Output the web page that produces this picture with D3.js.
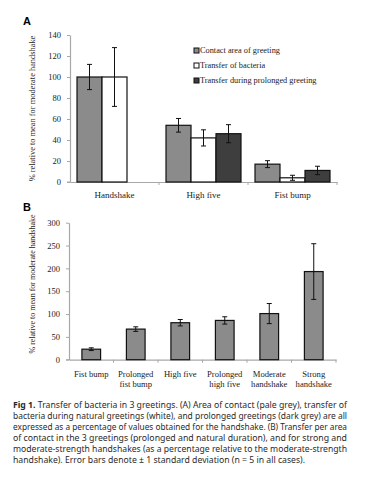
<!DOCTYPE html>
<html>
<head>
<meta charset="utf-8">
<script src="https://cdn.jsdelivr.net/npm/d3@7"></script>
<style>
  body { margin: 0; background: #fff; }
  svg { display: block; }
</style>
</head>
<body>
<div id="chart"></div>
<script>
// panel A data
var catsA = ["Handshake", "High five", "Fist bump"];
var seriesA = ["Contact area of greeting", "Transfer of bacteria", "Transfer during prolonged greeting"];
var contactMean = [100, 54, 17];
var contactSd = [12, 6.5, 3.3];
var transferMean = [100, 42, 4];
var transferSd = [28, 7.7, 2.4];
var prolongedMean = [null, 46, 11];
var prolongedSd = [null, 8.6, 4];
var ticksA = [0, 20, 40, 60, 80, 100, 120, 140];

// panel B data
var catsB = [["Fist bump"], ["Prolonged", "fist bump"], ["High five"], ["Prolonged", "high five"], ["Moderate", "handshake"], ["Strong", "handshake"]];
var meanB = [23, 67, 81, 86, 101, 193];
var sdB = [3, 5, 7, 8, 22, 61];
var ticksB = [0, 50, 100, 150, 200, 250, 300];

var yLabel = "% relative to mean for moderate handshake";
var captionLines = [
  ["Fig 1.", " Transfer of bacteria in 3 greetings. (A) Area of contact (pale grey), transfer of"],
  ["", "bacteria during natural greetings (white), and prolonged greetings (dark grey) are all"],
  ["", "expressed as a percentage of values obtained for the handshake. (B) Transfer per area"],
  ["", "of contact in the 3 greetings (prolonged and natural duration), and for strong and"],
  ["", "moderate-strength handshakes (as a percentage relative to the moderate-strength"],
  ["", "handshake). Error bars denote \u00b1 1 standard deviation (n = 5 in all cases)."]
];

var colors = ["#8b8b8b", "#ffffff", "#3e3e3e"];
var serif = "'Liberation Serif', 'Times New Roman', serif";
var axisGrey = "#a8a8a8";

var svg = d3.select("#chart").append("svg")
    .attr("width", 368)
    .attr("height", 492);

function styleAxis(g) {
    g.select(".domain").attr("stroke", axisGrey).attr("stroke-width", 1.2);
    g.selectAll(".tick line").attr("stroke", axisGrey);
    g.selectAll(".tick text").attr("fill", "#222").style("font-family", serif).style("font-size", "8.5px");
}

function errorBar(g, cx, yScale, m, sd, cap) {
    g.append("line")
        .attr("x1", cx).attr("x2", cx)
        .attr("y1", yScale(m + sd)).attr("y2", yScale(m - sd))
        .attr("stroke", "#111").attr("stroke-width", 1);
    [m + sd, m - sd].forEach(function(v) {
        g.append("line")
            .attr("x1", cx - cap).attr("x2", cx + cap)
            .attr("y1", yScale(v)).attr("y2", yScale(v))
            .attr("stroke", "#111").attr("stroke-width", 1);
    });
}

// ---------- panel A ----------
var xA = d3.scaleBand().domain(catsA).range([70, 337]);
var x1 = d3.scaleBand().domain(seriesA).range([0, xA.bandwidth()]).paddingOuter(0.28);
var yA = d3.scaleLinear().domain([0, 140]).range([182, 35]);

var means = [contactMean, transferMean, prolongedMean];
var sds = [contactSd, transferSd, prolongedSd];

var gA = svg.append("g");

gA.append("g")
    .attr("transform", "translate(70,0)")
    .call(d3.axisLeft(yA).tickValues(ticksA).tickSize(3).tickSizeOuter(0).tickPadding(6))
    .call(styleAxis);

var xAxisA = gA.append("g")
    .attr("transform", "translate(0,182)")
    .call(d3.axisBottom(xA).tickSize(0).tickPadding(10))
    .call(styleAxis);
xAxisA.selectAll(".tick text").style("font-size", "9px");
gA.append("line").attr("x1", 67).attr("x2", 70).attr("y1", 182).attr("y2", 182).attr("stroke", axisGrey);
gA.selectAll(".bndA").data(catsA).enter().append("line")
    .attr("x1", d => xA(d) + xA.bandwidth()).attr("x2", d => xA(d) + xA.bandwidth())
    .attr("y1", 182).attr("y2", 185).attr("stroke", axisGrey);

seriesA.forEach(function(s, si) {
    catsA.forEach(function(c, ci) {
        var m = means[si][ci];
        if (m == null) return;
        var bx = xA(c) + x1(s);
        gA.append("rect")
            .attr("x", bx).attr("y", yA(m))
            .attr("width", x1.bandwidth()).attr("height", yA(0) - yA(m))
            .attr("fill", colors[si]).attr("stroke", "#111").attr("stroke-width", 1.2);
    });
});
seriesA.forEach(function(s, si) {
    catsA.forEach(function(c, ci) {
        var m = means[si][ci];
        if (m == null) return;
        errorBar(gA, xA(c) + x1(s) + x1.bandwidth() / 2, yA, m, sds[si][ci], 2.5);
    });
});

// legend
var legend = gA.selectAll(".leg").data(seriesA).enter().append("g")
    .attr("transform", (d, i) => "translate(194," + (50.5 + i * 15) + ")");
legend.append("rect")
    .attr("x", 0).attr("y", -2.5).attr("width", 5).attr("height", 5)
    .attr("fill", (d, i) => colors[i]).attr("stroke", "#111").attr("stroke-width", 1);
legend.append("text")
    .attr("x", 6).attr("y", 0).attr("dy", "0.33em")
    .style("font-family", serif).style("font-size", "8.3px")
    .attr("fill", "#222")
    .text(d => d);

gA.append("text")
    .attr("transform", "translate(35,108.5) rotate(-90)")
    .attr("text-anchor", "middle")
    .style("font-family", serif).style("font-size", "8.4px")
    .attr("fill", "#222")
    .text(yLabel);

svg.append("text").attr("x", 23).attr("y", 25)
    .style("font-family", "'Liberation Sans', Arial, sans-serif").style("font-weight", "bold").style("font-size", "11px")
    .text("A");

// ---------- panel B ----------
var xB = d3.scaleBand().domain(d3.range(catsB.length)).range([69, 336]).paddingInner(0.58).paddingOuter(0.29);
var yB = d3.scaleLinear().domain([0, 300]).range([359.7, 222.7]);
var gB = svg.append("g");

gB.append("g")
    .attr("transform", "translate(69,0)")
    .call(d3.axisLeft(yB).tickValues(ticksB).tickSize(3).tickSizeOuter(0).tickPadding(6))
    .call(styleAxis);

var xAxisB = gB.append("g")
    .attr("transform", "translate(0,359.7)")
    .call(d3.axisBottom(xB).tickSize(0).tickFormat(""))
    .call(styleAxis);
gB.append("line").attr("x1", 66).attr("x2", 69).attr("y1", 359.7).attr("y2", 359.7).attr("stroke", axisGrey);
var stepB = xB.step();
gB.selectAll(".bndB").data(d3.range(catsB.length)).enter().append("line")
    .attr("x1", d => 69 + (d + 1) * (267 / catsB.length)).attr("x2", d => 69 + (d + 1) * (267 / catsB.length))
    .attr("y1", 359.7).attr("y2", 362.7).attr("stroke", axisGrey);

gB.selectAll(".barB").data(meanB).enter().append("rect")
    .attr("x", (d, i) => xB(i)).attr("y", d => yB(d))
    .attr("width", xB.bandwidth()).attr("height", d => yB(0) - yB(d))
    .attr("fill", colors[0]).attr("stroke", "#111").attr("stroke-width", 1.2);
meanB.forEach(function(m, i) {
    errorBar(gB, xB(i) + xB.bandwidth() / 2, yB, m, sdB[i], 2.5);
});

catsB.forEach(function(lines, i) {
    var t = gB.append("text")
        .attr("text-anchor", "middle")
        .style("font-family", serif).style("font-size", "8.6px")
        .attr("fill", "#222");
    lines.forEach(function(l, li) {
        t.append("tspan").attr("x", xB(i) + xB.bandwidth() / 2).attr("y", 377 + li * 10).text(l);
    });
});

gB.append("text")
    .attr("transform", "translate(35,284) rotate(-90)")
    .attr("text-anchor", "middle")
    .style("font-family", serif).style("font-size", "8px")
    .attr("fill", "#222")
    .text(yLabel);

svg.append("text").attr("x", 23).attr("y", 211)
    .style("font-family", "'Liberation Sans', Arial, sans-serif").style("font-weight", "bold").style("font-size", "11px")
    .text("B");

// ---------- caption ----------
captionLines.forEach(function(l, i) {
    var last = i === captionLines.length - 1;
    var t = svg.append("text")
        .attr("x", 13).attr("y", 408 + i * 11)
        .attr("textLength", last ? 292 : 334)
        .attr("lengthAdjust", "spacingAndGlyphs")
        .style("font-family", "'Noto Sans', 'Open Sans', sans-serif").style("font-size", "8.6px")
        .attr("fill", "#2a2a2a");
    if (l[0]) t.append("tspan").style("font-weight", "bold").text(l[0]);
    t.append("tspan").text(l[1]);
});
</script>
</body>
</html>
